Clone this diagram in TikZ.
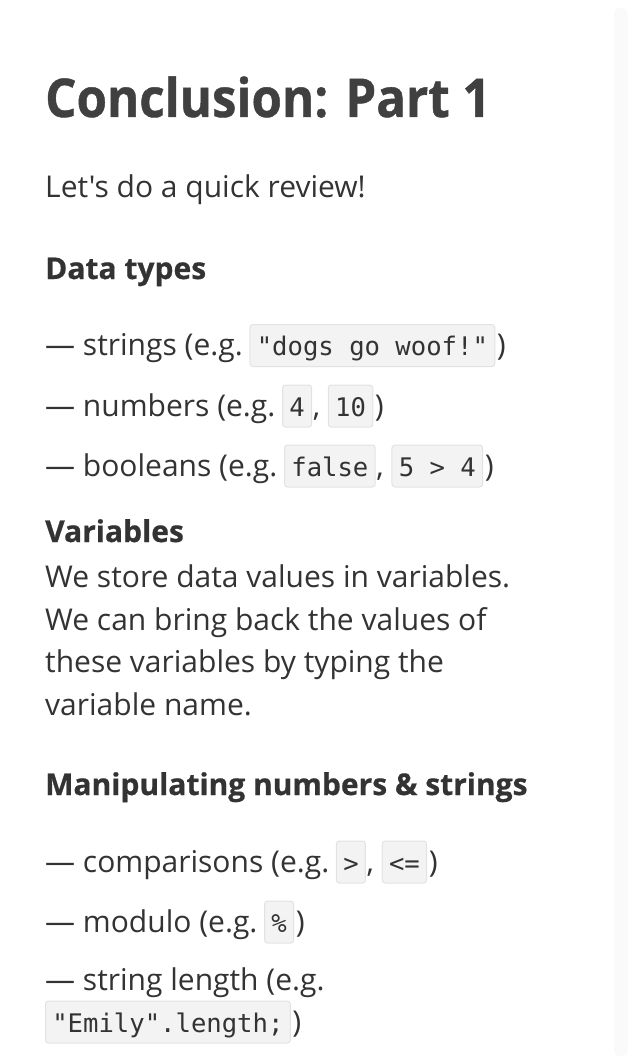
\documentclass[tikz,border=0pt]{standalone}
\usepackage{fontspec}
\usepackage{xcolor}
\usepackage{tikz}
\usetikzlibrary{positioning}

\newfontfamily\osans{Open Sans}
\newfontfamily\otitle{Open Sans}[FakeStretch=0.92,BoldFeatures={FakeBold=0.8}]
\newfontfamily\ohead{Open Sans}[BoldFeatures={FakeBold=0.6}]
\newfontfamily\cmono{DejaVu Sans Mono}
\newcommand{\bodyfont}{\osans\fontsize{30pt}{43pt}\selectfont}
\newcommand{\headfont}{\ohead\bfseries\fontsize{30pt}{43pt}\selectfont}
\newcommand{\titlefont}{\otitle\bfseries\fontsize{53.5pt}{64pt}\selectfont}
\newcommand{\codefont}{\cmono\fontsize{25.6pt}{30pt}\selectfont}

\definecolor{ink}{HTML}{333333}
\definecolor{titleink}{HTML}{404040}
\definecolor{codebg}{HTML}{F3F3F3}
\definecolor{codeline}{HTML}{E2E2E2}
\definecolor{stripbg}{HTML}{FAFAFA}

\tikzset{
  txt/.style={inner sep=0pt, anchor=base west, text=ink, font=\bodyfont},
  head/.style={txt, font=\headfont},
  code/.style={fill=codebg, draw=codeline, line width=1pt, rounded corners=3pt,
    inner xsep=6.8pt, inner ysep=0pt, text height=31pt, text depth=11pt,
    text=ink, font=\codefont, anchor=base west}
}

\begin{document}
\begin{tikzpicture}[x=1pt,y=-1pt]
      \useasboundingbox (0,0) rectangle (632,1062);
      \fill[stripbg,rounded corners=6pt] (614,8) rectangle (628,1056);

      \node[txt,font=\titlefont,text=titleink] (title) at (45,117) {Conclusion: Part 1};
      \node[txt] (intro) at (45,197) {Let's do a quick review!};

      % data types
      \node[head] (types) at (45,279) {Data types};
      \node[txt] (str) at (45,355.5) {— strings (e.g.};
      \node[code,right=6.5pt of str.base east,anchor=base west] (strc) {"dogs go woof!"};
      \node[txt,right=1.5pt of strc.base east,anchor=base west] (stre) {)};

      \node[txt] (num) at (45,416) {— numbers (e.g.};
      \node[code,right=6.5pt of num.base east,anchor=base west] (numa) {4};
      \node[txt,right=0.5pt of numa.base east,anchor=base west] (numk) {,};
      \node[code,right=7.5pt of numk.base east,anchor=base west] (numb) {10};
      \node[txt,right=1.5pt of numb.base east,anchor=base west] (nume) {)};

      \node[txt] (bool) at (45,476) {— booleans (e.g.};
      \node[code,right=6.5pt of bool.base east,anchor=base west] (boola) {false};
      \node[txt,right=0.5pt of boola.base east,anchor=base west] (boolk) {,};
      \node[code,right=7.5pt of boolk.base east,anchor=base west] (boolb) {5 > 4};
      \node[txt,right=1.5pt of boolb.base east,anchor=base west] (boole) {)};

      % variables
      \node[head] (vars) at (45,542) {Variables};
      \node[txt] (var1) at (45,587) {We store data values in variables.};
      \node[txt] (var2) at (45,630) {We can bring back the values of};
      \node[txt] (var3) at (45,672) {these variables by typing the};
      \node[txt] (var4) at (45,715) {variable name.};

      % numbers & strings
      \node[head] (manip) at (45,795) {Manipulating numbers \& strings};
      \node[txt] (cmp) at (45,872) {— comparisons (e.g.};
      \node[code,right=6.5pt of cmp.base east,anchor=base west] (cmpa) {>};
      \node[txt,right=0.5pt of cmpa.base east,anchor=base west] (cmpk) {,};
      \node[code,right=7.5pt of cmpk.base east,anchor=base west] (cmpb) {<=};
      \node[txt,right=1.5pt of cmpb.base east,anchor=base west] (cmpe) {)};

      \node[txt] (mod) at (45,932) {— modulo (e.g.};
      \node[code,right=6.5pt of mod.base east,anchor=base west] (moda) {\%};
      \node[txt,right=1.5pt of moda.base east,anchor=base west] (mode) {)};

      \node[txt] (len) at (45,990) {— string length (e.g.};
      \node[code] (lenc) at (45,1032) {"Emily".length;};
      \node[txt,right=1.5pt of lenc.base east,anchor=base west] (lene) {)};
\end{tikzpicture}
\end{document}
